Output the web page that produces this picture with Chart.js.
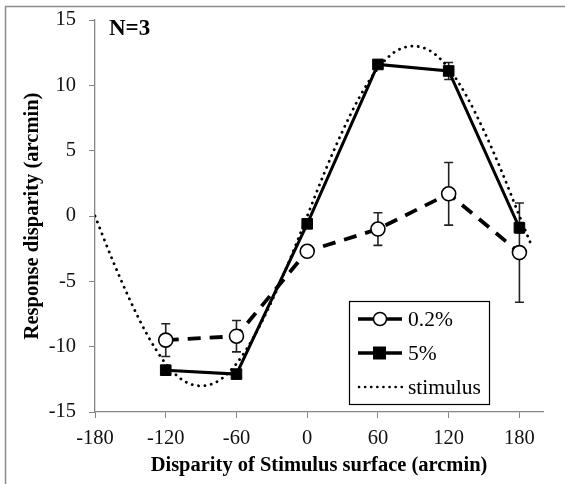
<!DOCTYPE html>
<html>
<head>
<meta charset="utf-8">
<script src="https://cdn.jsdelivr.net/npm/chart.js@4.4.1/dist/chart.umd.min.js"></script>
<style>
	body { margin: 0; background: #fff; }
	canvas { display: block; }
</style>
</head>
<body>
<canvas id="chart" width="565" height="484"></canvas>
<script>
// DATA
const disparities = [-120, -60, 0, 60, 120, 180];
const lowValues = [-9.5, -9.2, -2.7, -1.0, 1.7, -2.8];
const lowErrors = [1.25, 1.2, 0.3, 1.25, 2.4, 3.8];
const highValues = [-11.8, -12.1, -0.6, 11.6, 11.1, -0.9];
const highErrors = [0.35, 0.3, 0.3, 0.3, 0.65, 0.4];

const stimulusX = [-180, -165, -150, -135, -120, -105, -90, -75, -60, -45, -30, -15, 0,
	15, 30, 45, 60, 75, 90, 105, 120, 135, 150, 165, 180, 190];
const stimulusY = [0, -3.4, -6.5, -9.2, -11.3, -12.6, -13, -12.6, -11.3, -9.2, -6.5, -3.4, 0,
	3.4, 6.5, 9.2, 11.3, 12.6, 13, 12.6, 11.3, 9.2, 6.5, 3.4, 0, -2.2];

const xTicks = [-180, -120, -60, 0, 60, 120, 180];
const seriesLabels = ["0.2%", "5%", "stimulus"];

const serif = "'Liberation Serif', 'DejaVu Serif', serif";

function toPoints(xs, ys) {
	return xs.map((x, i) => ({x: x, y: ys[i]}));
}

// error bars, drawn behind the markers
const errorBars = {
	id: "errorBars",
	beforeDatasetsDraw(chart) {
		const {ctx, scales: {x, y}} = chart;
		const sets = [[lowValues, lowErrors], [highValues, highErrors]];
		ctx.save();
		ctx.strokeStyle = "#222";
		ctx.lineWidth = 1.6;
		sets.forEach(([vals, errs]) => {
			disparities.forEach((d, i) => {
				const px = x.getPixelForValue(d);
				const top = y.getPixelForValue(vals[i] + errs[i]);
				const bot = y.getPixelForValue(vals[i] - errs[i]);
				ctx.beginPath();
				ctx.moveTo(px, top); ctx.lineTo(px, bot);
				ctx.moveTo(px - 4.5, top); ctx.lineTo(px + 4.5, top);
				ctx.moveTo(px - 4.5, bot); ctx.lineTo(px + 4.5, bot);
				ctx.stroke();
			});
		});
		ctx.restore();
	}
};

// frame, N=3 label and legend box
const decorations = {
	id: "decorations",
	beforeDraw(chart) {
		const ctx = chart.ctx;
		ctx.save();
		ctx.fillStyle = "#fff";
		ctx.fillRect(0, 0, chart.width, chart.height);
		ctx.strokeStyle = "#8c8c8c";
		ctx.lineWidth = 1.5;
		ctx.beginPath();
		ctx.moveTo(5.5, 484); ctx.lineTo(5.5, 6.5); ctx.lineTo(565, 6.5);
		ctx.stroke();
		ctx.restore();
	},
	afterDraw(chart) {
		const ctx = chart.ctx;
		ctx.save();
		ctx.fillStyle = "#000";
		ctx.font = "bold 23px " + serif;
		ctx.textBaseline = "middle";
		ctx.fillText("N=3", 109, 29);

		// legend
		ctx.fillStyle = "#fff";
		ctx.fillRect(349, 301, 140, 103);
		ctx.strokeStyle = "#000";
		ctx.lineWidth = 1.2;
		ctx.strokeRect(349.5, 301.5, 140, 103);

		const rows = [319, 353, 387];
		ctx.font = "21.5px " + serif;
		rows.forEach((ry, i) => {
			ctx.strokeStyle = "#000";
			ctx.beginPath();
			if (i === 2) {
				ctx.lineWidth = 2.6;
				ctx.lineCap = "round";
				ctx.setLineDash([0.1, 6]);
				ctx.moveTo(359, ry); ctx.lineTo(403, ry);
				ctx.stroke();
				ctx.setLineDash([]);
			} else {
				ctx.lineWidth = 3.5;
				ctx.lineCap = "butt";
				ctx.moveTo(358, ry); ctx.lineTo(402, ry);
				ctx.stroke();
			}
			if (i === 0) {
				ctx.fillStyle = "#fff";
				ctx.lineWidth = 1.5;
				ctx.beginPath();
				ctx.arc(380, ry, 6.5, 0, Math.PI * 2);
				ctx.fill(); ctx.stroke();
			} else if (i === 1) {
				ctx.fillStyle = "#000";
				ctx.fillRect(373, ry - 6.5, 13, 13);
			}
			ctx.fillStyle = "#000";
			ctx.fillText(seriesLabels[i], 408, ry + 1);
		});
		ctx.restore();
	}
};

const chart = new Chart(document.getElementById("chart"), {
	type: "line",
	data: {
		datasets: [
			{
				label: seriesLabels[2],
				data: toPoints(stimulusX, stimulusY),
				borderColor: "#000",
				borderWidth: 2.8,
				borderDash: [0.1, 6.3],
				borderCapStyle: "round",
				pointRadius: 0,
				tension: 0.4,
				cubicInterpolationMode: "monotone",
				order: 3
			},
			{
				label: seriesLabels[1],
				data: toPoints(disparities, highValues),
				borderColor: "#000",
				borderWidth: 3,
				pointStyle: "rect",
				pointRadius: 7.5,
				pointBackgroundColor: "#000",
				pointBorderColor: "#000",
				pointBorderWidth: 1,
				order: 1
			},
			{
				label: seriesLabels[0],
				data: toPoints(disparities, lowValues),
				borderColor: "#000",
				borderWidth: 3.8,
				borderDash: [13, 9],
				pointStyle: "circle",
				pointRadius: 7,
				pointBackgroundColor: "#fff",
				pointBorderColor: "#000",
				pointBorderWidth: 1.6,
				order: 2
			}
		]
	},
	options: {
		responsive: false,
		animation: false,
		devicePixelRatio: 1,
		layout: {padding: {left: 20, right: 22, top: 20, bottom: 6}},
		plugins: {
			legend: {display: false},
			tooltip: {enabled: false}
		},
		scales: {
			x: {
				type: "linear",
				min: -180,
				max: 200,
				afterBuildTicks: (scale) => {
					scale.ticks = xTicks.map(v => ({value: v}));
				},
				afterFit: (scale) => {
					scale.height = 66;
					scale.paddingLeft = 0;
					scale.paddingRight = 0;
				},
				border: {color: "#868686", width: 1.3},
				grid: {drawOnChartArea: false, tickLength: 6, color: "#868686", tickColor: "#868686"},
				ticks: {
					color: "#111",
					font: {family: serif, size: 20.5},
					padding: 8,
					maxRotation: 0
				},
				title: {
					display: true,
					text: "Disparity of Stimulus surface (arcmin)",
					color: "#000",
					font: {family: serif, size: 20.5, weight: "bold"},
					padding: {top: 0, bottom: 0}
				}
			},
			y: {
				min: -15,
				max: 15,
				afterFit: (scale) => {
					scale.width = 75;
					scale.paddingTop = 0;
					scale.paddingBottom = 0;
				},
				border: {color: "#868686", width: 1.3},
				grid: {drawOnChartArea: false, tickLength: 6, color: "#868686", tickColor: "#868686"},
				ticks: {
					stepSize: 5,
					color: "#111",
					font: {family: serif, size: 20.5},
					padding: 13
				},
				title: {
					display: true,
					text: "Response disparity (arcmin)",
					color: "#000",
					font: {family: serif, size: 20.5, weight: "bold"},
					padding: {top: 0, bottom: 0}
				}
			}
		}
	},
	plugins: [decorations, errorBars]
});
</script>
</body>
</html>
